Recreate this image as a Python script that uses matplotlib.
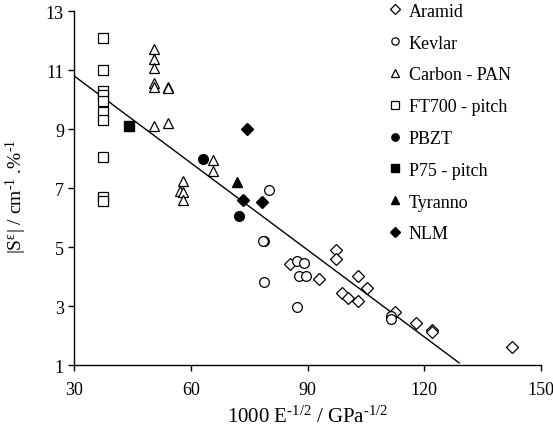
import matplotlib
matplotlib.use("Agg")
import matplotlib.pyplot as plt

plt.rcParams['font.family'] = ['Liberation Serif', 'DejaVu Serif']
plt.rcParams['mathtext.fontset'] = 'custom'
plt.rcParams['mathtext.rm'] = 'Liberation Serif'
plt.rcParams['mathtext.it'] = 'Liberation Serif:italic'

# data
aramid_x = [85.6, 92.9, 97.3, 97.3, 98.8, 100.5, 102.9, 102.9, 105.4, 112.5, 117.9, 122.1, 122.1, 142.5]
aramid_y = [4.43, 3.93, 4.91, 4.6, 3.44, 3.28, 4.02, 3.17, 3.61, 2.8, 2.42, 2.2, 2.12, 1.61]

kevlar_x = [78.8, 78.6, 80.1, 78.8, 87.3, 89.1, 87.9, 89.6, 87.3, 111.4, 111.4]
kevlar_y = [5.22, 5.2, 6.95, 3.81, 4.55, 4.46, 4.04, 4.04, 2.99, 2.68, 2.57]

carbon_x = [50.6, 50.6, 50.6, 50.6, 50.6, 50.6, 54.0, 54.0, 54.0, 57.9, 57.2, 57.9, 57.9, 65.7, 65.7]
carbon_y = [11.72, 11.38, 11.08, 10.58, 10.42, 9.12, 10.45, 10.4, 9.21, 7.26, 6.9, 6.86, 6.6, 7.96, 7.6]

ft700_x = [37.3] * 10
ft700_y = [12.08, 11.02, 10.29, 10.15, 9.95, 9.58, 9.33, 8.07, 6.69, 6.58]

pbzt_x = [63.0, 72.4]
pbzt_y = [8.0, 6.05]

p75_x = [44.1]
p75_y = [9.11]

tyranno_x = [71.8]
tyranno_y = [7.2]

nlm_x = [74.5, 73.5, 78.3]
nlm_y = [9.0, 6.6, 6.55]

# regression line
fit_x = [30, 129]
fit_slope = -0.0982
fit_intercept = 13.75

fig = plt.figure(figsize=(5.53, 4.31), dpi=100)
ax = fig.add_axes([0.1344, 0.150, 0.8436, 0.8215])

fit_y = [fit_intercept + fit_slope * x for x in fit_x]
ax.plot(fit_x, fit_y, color="black", lw=1.0, zorder=1)

ms = 7
open_style = dict(linestyle="none", markerfacecolor="white", markeredgecolor="black",
                  markeredgewidth=0.9, markersize=ms)
fill_style = dict(linestyle="none", color="black", markersize=ms)

ax.plot(aramid_x, aramid_y, marker="D", label="Aramid", **dict(open_style, markersize=6.3))
ax.plot(kevlar_x, kevlar_y, marker="o", label="Kevlar", **open_style)
ax.plot(carbon_x, carbon_y, marker="^", label="Carbon - PAN", **dict(open_style, markersize=7.5))
ax.plot(ft700_x, ft700_y, marker="s", label="FT700 - pitch", **open_style)
ax.plot(pbzt_x, pbzt_y, marker="o", label="PBZT", **fill_style)
ax.plot(p75_x, p75_y, marker="s", label="P75 - pitch", **fill_style)
ax.plot(tyranno_x, tyranno_y, marker="^", label="Tyranno", **dict(fill_style, markersize=7.5))
ax.plot(nlm_x, nlm_y, marker="D", label="NLM", **dict(fill_style, markersize=6.3))

ax.set_xlim(30, 150)
ax.set_ylim(1, 13)
ax.set_xticks([30, 60, 90, 120, 150])
ax.set_yticks([1, 3, 5, 7, 9, 11, 13])
ax.tick_params(direction="out", length=4.5, width=1, labelsize=13)
ax.tick_params(axis="x", pad=7)
ax.tick_params(axis="y", pad=3)
for side in ["top", "right"]:
    ax.spines[side].set_visible(False)
for side in ["left", "bottom"]:
    ax.spines[side].set_linewidth(1)

hy = "\u2010"
ax.set_xlabel("1000 E$^{\\mathrm{" + hy + "1/2}}$ / GPa$^{\\mathrm{" + hy + "1/2}}$", fontsize=15, labelpad=5)
ax.set_ylabel("|S$^{\\mathrm{\\varepsilon}}$| / cm$^{\\mathrm{" + hy + "1}}$ .%$^{\\mathrm{" + hy + "1}}$",
              fontsize=14)
ax.yaxis.set_label_coords(-0.098, 0.48)

ax.legend(loc="upper left", bbox_to_anchor=(0.672, 1.024), frameon=False, fontsize=13,
          markerscale=0.75, handlelength=0.8, handletextpad=0.35, labelspacing=0.82,
          borderpad=0, borderaxespad=0)

fig.savefig("out.png", dpi=100)
